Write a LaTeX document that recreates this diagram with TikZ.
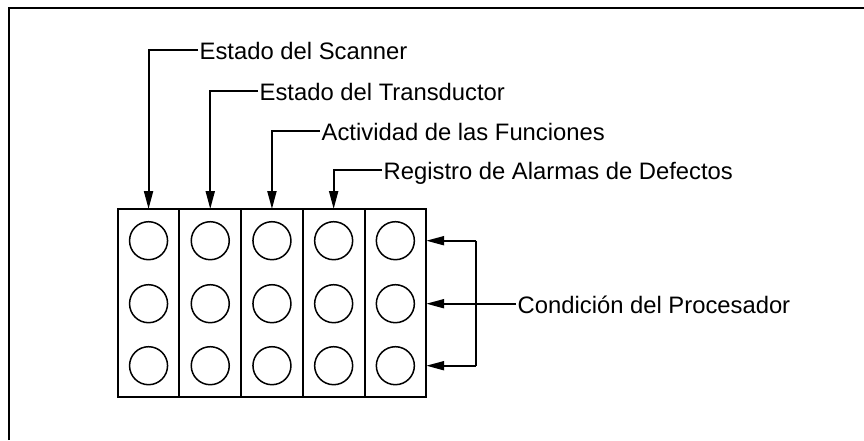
\documentclass[tikz,border=0pt]{standalone}
\usepackage{fontspec}
\setmainfont{Liberation Sans}
\usetikzlibrary{arrows.meta}
\begin{document}
\begin{tikzpicture}[x=1pt,y=-1pt,
  ln/.style={line width=2pt},
  arr/.style={line width=2pt,-{Triangle[length=18pt,width=9pt]}},
  col/.style={draw,line width=2pt,minimum width=61.7pt,minimum height=187.7pt,inner sep=0pt,outer sep=0pt},
  lamp/.style={draw,circle,line width=1.5pt,minimum size=38pt,inner sep=0pt},
  lbl/.style={anchor=west,inner sep=1.5pt,font=\fontsize{23.8}{28}\selectfont,text height=19pt,text depth=0pt}]
\useasboundingbox (0,0) rectangle (864,440);
% frame
\draw[line width=2.2pt] (9,440) -- (9,8) -- (864,8);
% columns
\foreach \i in {1,...,5}{
  \node[col] (c\i) at ({117.7+61.7*(\i-0.5)},302.85) {};
  \foreach \r/\yy in {1/240.7,2/303.7,3/365.7}{
    \node[lamp] (p\i\r) at ({117.7+61.7*(\i-0.5)},\yy) {};
  }
}
% top labels
\node[lbl] (l1) at (198,50) {Estado del Scanner};
\node[lbl] (l2) at (258,90.7) {Estado del Transductor};
\node[lbl] (l3) at (320,130.7) {Actividad de las Funciones};
\node[lbl] (l4) at (382,170) {Registro de Alarmas de Defectos};
\draw[arr] (l1.west) -| (c1.north);
\draw[arr] (l2.west) -| (c2.north);
\draw[arr] (l3.west) -| (c3.north);
\draw[arr] (l4.west) -| (c4.north);
% right label
\node[lbl] (l5) at (516,303.7) {Condición del Procesador};
\coordinate (vt) at (476,240.7);
\coordinate (vb) at (476,365.7);
\draw[ln] (vt) -- (vb);
\draw[arr] (vt) -- (c5.east |- vt);
\draw[arr] (l5.west) -- (c5.east |- l5.west);
\draw[arr] (vb) -- (c5.east |- vb);
\end{tikzpicture}
\end{document}
